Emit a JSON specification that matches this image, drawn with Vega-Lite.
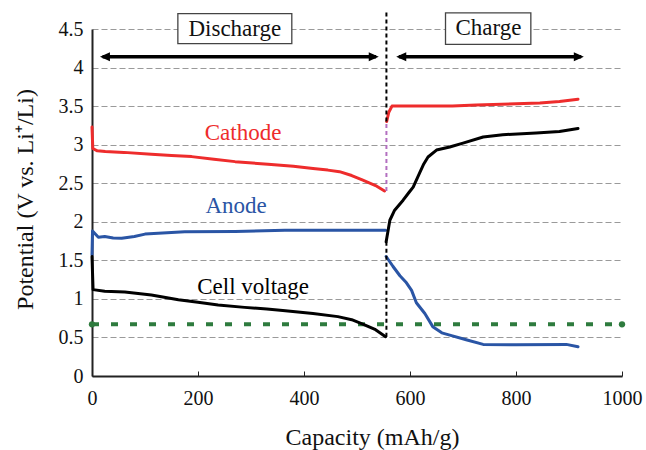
{
  "$schema": "https://vega.github.io/schema/vega-lite/v6.json",
  "autosize": {"type": "none"},
  "padding": {"left": 92, "top": 29, "right": 24, "bottom": 74},
  "width": 530,
  "height": 347,
  "background": "white",
  "config": {
    "font": "Liberation Serif",
    "view": {"stroke": null}
  },
  "datasets": {
    "curves": [
      {"series": "Cathode", "seg": "d", "cap": 0, "v": 3.23},
      {"series": "Cathode", "seg": "d", "cap": 1.5, "v": 2.95},
      {"series": "Cathode", "seg": "d", "cap": 10, "v": 2.92},
      {"series": "Cathode", "seg": "d", "cap": 25, "v": 2.91},
      {"series": "Cathode", "seg": "d", "cap": 60, "v": 2.9},
      {"series": "Cathode", "seg": "d", "cap": 112, "v": 2.875},
      {"series": "Cathode", "seg": "d", "cap": 150, "v": 2.86},
      {"series": "Cathode", "seg": "d", "cap": 188, "v": 2.845},
      {"series": "Cathode", "seg": "d", "cap": 230, "v": 2.81},
      {"series": "Cathode", "seg": "d", "cap": 270, "v": 2.78},
      {"series": "Cathode", "seg": "d", "cap": 332, "v": 2.745},
      {"series": "Cathode", "seg": "d", "cap": 380, "v": 2.72},
      {"series": "Cathode", "seg": "d", "cap": 417, "v": 2.69},
      {"series": "Cathode", "seg": "d", "cap": 445, "v": 2.67},
      {"series": "Cathode", "seg": "d", "cap": 467, "v": 2.65},
      {"series": "Cathode", "seg": "d", "cap": 490, "v": 2.6},
      {"series": "Cathode", "seg": "d", "cap": 511, "v": 2.54},
      {"series": "Cathode", "seg": "d", "cap": 535, "v": 2.47},
      {"series": "Cathode", "seg": "d", "cap": 552, "v": 2.4},
      {"series": "Cathode", "seg": "c", "cap": 556, "v": 3.3},
      {"series": "Cathode", "seg": "c", "cap": 560, "v": 3.42},
      {"series": "Cathode", "seg": "c", "cap": 566, "v": 3.5},
      {"series": "Cathode", "seg": "c", "cap": 600, "v": 3.5},
      {"series": "Cathode", "seg": "c", "cap": 680, "v": 3.5},
      {"series": "Cathode", "seg": "c", "cap": 725, "v": 3.515},
      {"series": "Cathode", "seg": "c", "cap": 800, "v": 3.53},
      {"series": "Cathode", "seg": "c", "cap": 845, "v": 3.54},
      {"series": "Cathode", "seg": "c", "cap": 882, "v": 3.56},
      {"series": "Cathode", "seg": "c", "cap": 917, "v": 3.59},
      {"series": "Anode", "seg": "d", "cap": 0, "v": 1.57},
      {"series": "Anode", "seg": "d", "cap": 1, "v": 1.88},
      {"series": "Anode", "seg": "d", "cap": 12, "v": 1.8},
      {"series": "Anode", "seg": "d", "cap": 24, "v": 1.81},
      {"series": "Anode", "seg": "d", "cap": 40, "v": 1.79},
      {"series": "Anode", "seg": "d", "cap": 56, "v": 1.785},
      {"series": "Anode", "seg": "d", "cap": 80, "v": 1.81},
      {"series": "Anode", "seg": "d", "cap": 100, "v": 1.84},
      {"series": "Anode", "seg": "d", "cap": 175, "v": 1.87},
      {"series": "Anode", "seg": "d", "cap": 270, "v": 1.875},
      {"series": "Anode", "seg": "d", "cap": 364, "v": 1.89},
      {"series": "Anode", "seg": "d", "cap": 554, "v": 1.89},
      {"series": "Anode", "seg": "c", "cap": 555, "v": 1.55},
      {"series": "Anode", "seg": "c", "cap": 568, "v": 1.42},
      {"series": "Anode", "seg": "c", "cap": 581, "v": 1.3},
      {"series": "Anode", "seg": "c", "cap": 592, "v": 1.22},
      {"series": "Anode", "seg": "c", "cap": 603, "v": 1.11},
      {"series": "Anode", "seg": "c", "cap": 612, "v": 0.95},
      {"series": "Anode", "seg": "c", "cap": 628, "v": 0.81},
      {"series": "Anode", "seg": "c", "cap": 643, "v": 0.64},
      {"series": "Anode", "seg": "c", "cap": 660, "v": 0.56},
      {"series": "Anode", "seg": "c", "cap": 675, "v": 0.53},
      {"series": "Anode", "seg": "c", "cap": 706, "v": 0.47},
      {"series": "Anode", "seg": "c", "cap": 738, "v": 0.41},
      {"series": "Anode", "seg": "c", "cap": 800, "v": 0.405},
      {"series": "Anode", "seg": "c", "cap": 895, "v": 0.41},
      {"series": "Anode", "seg": "c", "cap": 917, "v": 0.38},
      {"series": "Cell voltage", "seg": "d", "cap": 0, "v": 1.55},
      {"series": "Cell voltage", "seg": "d", "cap": 2, "v": 1.12},
      {"series": "Cell voltage", "seg": "d", "cap": 24, "v": 1.1},
      {"series": "Cell voltage", "seg": "d", "cap": 62, "v": 1.09},
      {"series": "Cell voltage", "seg": "d", "cap": 112, "v": 1.05},
      {"series": "Cell voltage", "seg": "d", "cap": 163, "v": 0.99},
      {"series": "Cell voltage", "seg": "d", "cap": 200, "v": 0.955},
      {"series": "Cell voltage", "seg": "d", "cap": 238, "v": 0.92},
      {"series": "Cell voltage", "seg": "d", "cap": 288, "v": 0.89},
      {"series": "Cell voltage", "seg": "d", "cap": 330, "v": 0.87},
      {"series": "Cell voltage", "seg": "d", "cap": 360, "v": 0.85},
      {"series": "Cell voltage", "seg": "d", "cap": 417, "v": 0.81},
      {"series": "Cell voltage", "seg": "d", "cap": 464, "v": 0.77},
      {"series": "Cell voltage", "seg": "d", "cap": 490, "v": 0.73},
      {"series": "Cell voltage", "seg": "d", "cap": 512, "v": 0.67},
      {"series": "Cell voltage", "seg": "d", "cap": 535, "v": 0.6},
      {"series": "Cell voltage", "seg": "d", "cap": 554, "v": 0.51},
      {"series": "Cell voltage", "seg": "c", "cap": 555, "v": 1.74},
      {"series": "Cell voltage", "seg": "c", "cap": 562, "v": 2.02},
      {"series": "Cell voltage", "seg": "c", "cap": 571, "v": 2.15},
      {"series": "Cell voltage", "seg": "c", "cap": 587, "v": 2.28},
      {"series": "Cell voltage", "seg": "c", "cap": 598, "v": 2.38},
      {"series": "Cell voltage", "seg": "c", "cap": 606, "v": 2.45},
      {"series": "Cell voltage", "seg": "c", "cap": 618, "v": 2.63},
      {"series": "Cell voltage", "seg": "c", "cap": 626, "v": 2.75},
      {"series": "Cell voltage", "seg": "c", "cap": 634, "v": 2.84},
      {"series": "Cell voltage", "seg": "c", "cap": 650, "v": 2.93},
      {"series": "Cell voltage", "seg": "c", "cap": 675, "v": 2.97},
      {"series": "Cell voltage", "seg": "c", "cap": 700, "v": 3.02},
      {"series": "Cell voltage", "seg": "c", "cap": 738, "v": 3.1},
      {"series": "Cell voltage", "seg": "c", "cap": 775, "v": 3.13},
      {"series": "Cell voltage", "seg": "c", "cap": 838, "v": 3.15},
      {"series": "Cell voltage", "seg": "c", "cap": 882, "v": 3.17},
      {"series": "Cell voltage", "seg": "c", "cap": 917, "v": 3.21}
    ],
    "vblack": [
      {"cap": 555.5, "v": 0.51, "v2": 1.74},
      {"cap": 555.5, "v": 3.3, "v2": 4.72}
    ],
    "vpurple": [
      {"cap": 555.5, "v": 2.4, "v2": 3.3}
    ],
    "arrows": [
      {"name": "Discharge", "cap": 20, "cap2": 536, "v": 4.14},
      {"name": "Charge", "cap": 579, "cap2": 923, "v": 4.14}
    ],
    "headsL": [
      {"cap": 15, "v": 4.14},
      {"cap": 574, "v": 4.14}
    ],
    "headsR": [
      {"cap": 541, "v": 4.14},
      {"cap": 928, "v": 4.14}
    ],
    "boxes": [
      {"name": "Discharge", "cap": 162, "cap2": 377, "v": 4.31, "v2": 4.7, "tcap": 269.5, "tv": 4.41},
      {"name": "Charge", "cap": 667, "cap2": 828, "v": 4.3, "v2": 4.71, "tcap": 748, "tv": 4.42}
    ],
    "labels": [
      {"series": "Cathode", "cap": 285, "v": 3.06},
      {"series": "Anode", "cap": 272, "v": 2.11},
      {"series": "Cell voltage", "cap": 304, "v": 1.06}
    ],
    "cutoff": [
      {"cap": 0, "v": 0.67},
      {"cap": 1000, "v": 0.67}
    ]
  },
  "encoding": {
    "x": {
      "field": "cap", "type": "quantitative",
      "scale": {"domain": [0, 1000], "nice": false, "zero": false},
      "axis": {
        "title": "Capacity (mAh/g)",
        "values": [0, 200, 400, 600, 800, 1000],
        "format": "d",
        "labelFlush": false,
        "grid": false,
        "domainColor": "#222", "domainWidth": 2,
        "tickColor": "#222", "tickSize": -5, "tickWidth": 1,
        "labelFont": "Liberation Serif", "labelFontSize": 20, "labelColor": "#111",
        "labelPadding": 17,
        "titleFont": "Liberation Serif", "titleFontSize": 24, "titleFontWeight": "normal", "titleColor": "#111",
        "titleX": 280, "titleY": 68, "titleBaseline": "alphabetic", "titleAlign": "center"
      }
    },
    "y": {
      "field": "v", "type": "quantitative",
      "scale": {"domain": [0, 4.5], "nice": false, "zero": false},
      "axis": {
        "title": "Potential (V vs. Li⁺/Li)",
        "values": [0, 0.5, 1, 1.5, 2, 2.5, 3, 3.5, 4, 4.5],
        "format": "~g",
        "labelFlush": false,
        "grid": true, "gridColor": "#9a9a9a", "gridDash": [6, 3], "gridWidth": 1.2,
        "ticks": false,
        "domainColor": "#222", "domainWidth": 2,
        "labelFont": "Liberation Serif", "labelFontSize": 20, "labelColor": "#111",
        "labelPadding": 9,
        "titleFont": "Liberation Serif", "titleFontSize": 24, "titleFontWeight": "normal", "titleColor": "#111",
        "titleX": -60, "titleY": 170, "titleBaseline": "alphabetic", "titleAlign": "center", "titleAngle": -90
      }
    }
  },
  "layer": [
    {
      "data": {"name": "cutoff"},
      "mark": {"type": "line", "color": "#2e7b3e", "strokeWidth": 4, "strokeDash": [7, 12], "clip": false},
      "encoding": {}
    },
    {
      "data": {"name": "cutoff"},
      "mark": {"type": "point", "shape": "circle", "filled": true, "color": "#2e7b3e", "size": 40, "opacity": 1, "clip": false},
      "encoding": {}
    },
    {
      "data": {"name": "curves"},
      "mark": {"type": "line", "strokeWidth": 3, "strokeJoin": "round", "strokeCap": "round"},
      "encoding": {
        "color": {
          "field": "series", "type": "nominal",
          "scale": {"domain": ["Cathode", "Anode", "Cell voltage"], "range": ["#ee2c2c", "#2a55a5", "#000000"]},
          "legend": null
        },
        "detail": {"field": "seg"}
      }
    },
    {
      "data": {"name": "vblack"},
      "mark": {"type": "rule", "color": "#000", "strokeWidth": 2, "strokeDash": [4, 3], "clip": false},
      "encoding": {"y2": {"field": "v2"}}
    },
    {
      "data": {"name": "vpurple"},
      "mark": {"type": "rule", "color": "#b36fc0", "strokeWidth": 2, "strokeDash": [4, 3], "clip": false},
      "encoding": {"y2": {"field": "v2"}}
    },
    {
      "mark": {"type": "rule", "color": "#111", "strokeWidth": 1, "clip": false},
      "encoding": {"y": {"datum": 4.5, "type": "quantitative"}, "x": {"datum": 0, "type": "quantitative"}, "x2": {"datum": 1000}}
    },
    {
      "mark": {"type": "rule", "color": "#888", "strokeWidth": 2, "clip": false},
      "encoding": {"x": {"datum": 1000, "type": "quantitative"}, "y": {"datum": 0, "type": "quantitative"}, "y2": {"datum": 4.5}}
    },
    {
      "data": {"name": "arrows"},
      "mark": {"type": "rule", "color": "#000", "strokeWidth": 3.5, "clip": false},
      "encoding": {"x2": {"field": "cap2"}}
    },
    {
      "data": {"name": "headsL"},
      "mark": {"type": "point", "filled": true, "color": "#000", "opacity": 1, "size": 100, "strokeWidth": 0, "shape": "M0,0L2,-0.9L2,0.9Z", "clip": false},
      "encoding": {}
    },
    {
      "data": {"name": "headsR"},
      "mark": {"type": "point", "filled": true, "color": "#000", "opacity": 1, "size": 100, "strokeWidth": 0, "shape": "M0,0L-2,-0.9L-2,0.9Z", "clip": false},
      "encoding": {}
    },
    {
      "data": {"name": "boxes"},
      "mark": {"type": "rect", "fill": "white", "stroke": "#444", "strokeWidth": 1.3, "clip": false},
      "encoding": {"x2": {"field": "cap2"}, "y2": {"field": "v2"}}
    },
    {
      "data": {"name": "boxes"},
      "mark": {"type": "text", "font": "Liberation Serif", "fontSize": 23, "color": "#111", "align": "center", "baseline": "alphabetic", "clip": false},
      "encoding": {
        "x": {"field": "tcap", "type": "quantitative"},
        "y": {"field": "tv", "type": "quantitative"},
        "text": {"field": "name"}
      }
    },
    {
      "data": {"name": "labels"},
      "mark": {"type": "text", "font": "Liberation Serif", "fontSize": 23, "align": "center", "baseline": "alphabetic"},
      "encoding": {
        "text": {"field": "series"},
        "color": {
          "field": "series", "type": "nominal",
          "scale": {"domain": ["Cathode", "Anode", "Cell voltage"], "range": ["#ee2c2c", "#2a55a5", "#000000"]},
          "legend": null
        }
      }
    }
  ]
}
